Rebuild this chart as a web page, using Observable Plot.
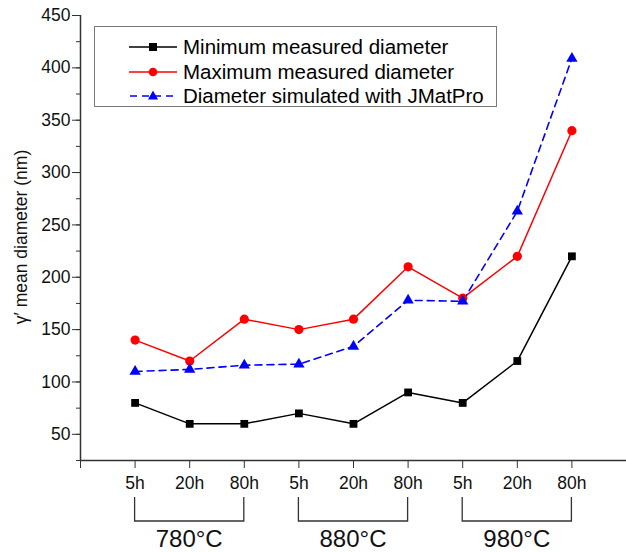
<!DOCTYPE html>
<html><head><meta charset="utf-8">
<script src="https://cdn.jsdelivr.net/npm/d3@7"></script>
<script src="https://cdn.jsdelivr.net/npm/@observablehq/plot@0.6"></script>
<style>
body{margin:0;background:#fff;font-family:"Liberation Sans",Arial,sans-serif;}
#wrap{position:relative;width:626px;height:552px;}
#legend{position:absolute;left:94px;top:26px;width:403px;height:81px;border:1.5px solid #7a7a7a;background:#fff;box-sizing:border-box;}
.row{position:absolute;left:34px;height:24px;display:flex;align-items:center;font-size:20.5px;color:#000;white-space:nowrap;}
.row svg{margin-right:6px;}
</style></head>
<body><div id="wrap"></div>
<script>
const positions = [1,2,3,4,5,6,7,8,9];
const times = ["5h","20h","80h","5h","20h","80h","5h","20h","80h"];
const temps = ["780°C","880°C","980°C"];
const minD = [80,60,60,70,60,90,80,120,220];
const maxD = [140,120,160,150,160,210,180,220,340];
const simD = [110,112,116,117,134,178,177,263,409];
const seriesNames = ["Minimum measured diameter","Maximum measured diameter","Diameter simulated with JMatPro"];

const rows = positions.map((p,i)=>({p, t:times[i], mn:minD[i], mx:maxD[i], sim:simD[i]}));

const chart = Plot.plot({
  width: 626, height: 552,
  marginLeft: 80, marginRight: 0, marginTop: 15, marginBottom: 92,
  style: {fontFamily: '"Liberation Sans", Arial, sans-serif', background: "white", overflow: "visible"},
  x: {domain: [0, 10]},
  y: {domain: [25, 450]},
  marks: [
    Plot.axisY({ticks: d3.range(25, 451, 25), tickSize: 4, tickFormat: null, text: null, label: null, stroke: "#333"}),
    Plot.axisY({ticks: d3.range(50, 451, 50), tickSize: 8, tickPadding: 2, fontSize: 17.5, label: null, stroke: "#333", color: "#111"}),
    Plot.axisX({ticks: d3.range(0, 11, 1), tickSize: 8, tickPadding: 8, fontSize: 17.5, label: null, stroke: "#333", color: "#111",
      tickFormat: d => (d >= 1 && d <= 9) ? times[d-1] : ""}),
    Plot.ruleX([0], {stroke: "#333", strokeWidth: 1.5}),
    Plot.ruleY([25], {stroke: "#333", strokeWidth: 1.5}),
    Plot.line(rows, {x: "p", y: "mn", stroke: "black", strokeWidth: 1.5}),
    Plot.line(rows, {x: "p", y: "mx", stroke: "#ff0000", strokeWidth: 1.5}),
    Plot.line(rows, {x: "p", y: "sim", stroke: "#0000ff", strokeWidth: 1.6, strokeDasharray: "7,5"}),
    Plot.dot(rows, {x: "p", y: "mn", symbol: "square", r: 4.4, fill: "black"}),
    Plot.dot(rows, {x: "p", y: "mx", symbol: "circle", r: 4.6, fill: "#ff0000"}),
    Plot.dot(rows, {x: "p", y: "sim", symbol: "triangle", r: 4.2, fill: "#0000ff"})
  ]
});

const svg = d3.select(chart);
const xs = chart.scale("x");
const g = svg.append("g");
temps.forEach((t, i) => {
  const x1 = xs.apply(positions[3*i]), x2 = xs.apply(positions[3*i+2]);
  g.append("path").attr("d", `M${x1},497V521H${x2}V497`).attr("fill","none").attr("stroke","#333").attr("stroke-width",1.3);
  g.append("text").attr("x", (x1+x2)/2).attr("y", 547).attr("text-anchor","middle")
    .attr("font-size", 24).attr("fill","#111").text(t);
});
svg.append("text").attr("transform","translate(27,237) rotate(-90)").attr("text-anchor","middle")
  .attr("font-size", 17.5).attr("fill","#111").text("γ′ mean diameter (nm)");

document.getElementById("wrap").appendChild(chart);

const legend = document.createElement("div");
legend.id = "legend";
const samples = [
  `<line x1="0" y1="12" x2="48" y2="12" stroke="black" stroke-width="1.5"/><rect x="20" y="8" width="8" height="8" fill="black"/>`,
  `<line x1="0" y1="12" x2="48" y2="12" stroke="#ff0000" stroke-width="1.5"/><circle cx="24" cy="12" r="4.3" fill="#ff0000"/>`,
  `<line x1="0" y1="12" x2="48" y2="12" stroke="#0000ff" stroke-width="1.6" stroke-dasharray="7,5" stroke-dashoffset="-1"/><path d="M24,6.5L29,15.5H19Z" fill="#0000ff"/>`
];
const tops = [8, 33, 57];
seriesNames.forEach((n, i) => {
  const r = document.createElement("div");
  r.className = "row";
  r.style.top = tops[i] + "px";
  r.innerHTML = `<svg width="48" height="24">${samples[i]}</svg><span>${n}</span>`;
  legend.appendChild(r);
});
document.getElementById("wrap").appendChild(legend);
</script>
</body></html>
